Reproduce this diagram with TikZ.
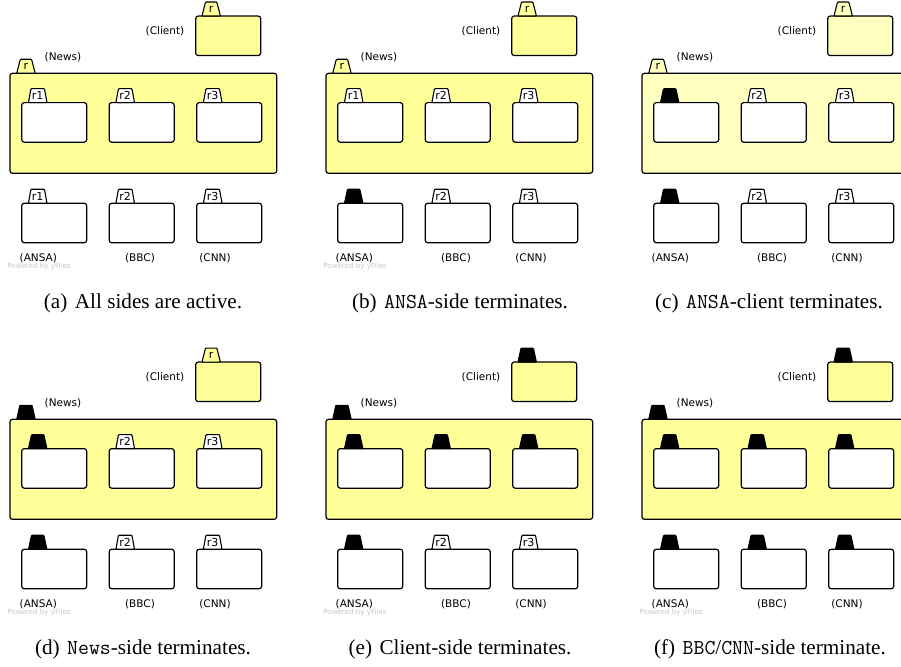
\documentclass[tikz,border=0pt]{standalone}
\usepackage{fontspec}
\setmainfont{Liberation Serif}
\newfontfamily\diagfont{DejaVu Sans}
\usetikzlibrary{shapes.geometric}
\definecolor{newsyellow}{HTML}{FFFF99}
\definecolor{fadedyellow}{HTML}{FFFFBF}
\definecolor{yfilesgray}{HTML}{C8C8C8}
\colorlet{paneltint}{newsyellow}
\def\deadname{deadtab}
\newcommand{\tabtext}[2]{\def\tabstate{#1}\ifx\tabstate\deadname\else#2\fi}
\tikzset{
  every node/.style={inner sep=0, outer sep=0},
  box/.style={draw, line width=1.2pt, rounded corners=2.5pt, minimum width=65pt, minimum height=39.5pt},
  tabshape/.style={draw, line width=1.1pt, rounded corners=.8pt, trapezium, trapezium left angle=76,
    trapezium right angle=76, trapezium stretches=true, minimum width=18.4pt, minimum height=14pt,
    inner sep=1pt, anchor=south, font=\diagfont\fontsize{11}{11}\selectfont},
  livetab/.style={tabshape, fill=white},
  toptab/.style={tabshape, fill=paneltint},
  deadtab/.style={tabshape, fill=black},
  partname/.style={font=\diagfont\fontsize{10.5}{12}\selectfont},
  powered/.style={font=\diagfont\fontsize{7.1}{8}\selectfont, text=yfilesgray},
  caption/.style={anchor=base, font=\fontsize{21.2}{24}\selectfont},
}
% #1 shift, #2 tint, #3 client, #4 news, #5 inner r1, #6 inner r2/r3, #7 ANSA, #8 BBC/CNN
\newcommand{\newspanel}[8]{%
  \begin{scope}[shift={#1}]
    \colorlet{paneltint}{#2}
    \node[box, fill=paneltint] (client) at (228.2, 35.8) {};
    \node[#3] (clienttab) at ([xshift=15.5pt]client.north west) {\tabtext{#3}{r}};
    \node[partname] (clientname) at (165, 31.5) {(Client)};
    \node[box, fill=paneltint, minimum width=266.7pt, minimum height=100pt] (news) at (143.3, 123.3) {};
    \node[#4] (newstab) at ([xshift=16pt]news.north west) {\tabtext{#4}{r}};
    \node[partname] (newsname) at (63, 57) {(News)};
    % inner roles
    \node[box, fill=white] (in1) at (54.2, 122.4) {};
    \node[box, fill=white] (in2) at (141.7, 122.4) {};
    \node[box, fill=white] (in3) at (229.2, 122.4) {};
    \node[#5] (in1tab) at ([xshift=16pt]in1.north west) {\tabtext{#5}{r1}};
    \node[#6] (in2tab) at ([xshift=16pt]in2.north west) {\tabtext{#6}{r2}};
    \node[#6] (in3tab) at ([xshift=16pt]in3.north west) {\tabtext{#6}{r3}};
    % outer services
    \node[box, fill=white] (ansa) at (54.2, 223) {};
    \node[box, fill=white] (bbc) at (141.7, 223) {};
    \node[box, fill=white] (cnn) at (229.2, 223) {};
    \node[#7] (ansatab) at ([xshift=16pt]ansa.north west) {\tabtext{#7}{r1}};
    \node[#8] (bbctab) at ([xshift=16pt]bbc.north west) {\tabtext{#8}{r2}};
    \node[#8] (cnntab) at ([xshift=16pt]cnn.north west) {\tabtext{#8}{r3}};
    \node[partname] (ansaname) at (38.3, 258.3) {(ANSA)};
    \node[partname] (bbcname) at (140, 258.3) {(BBC)};
    \node[partname] (cnnname) at (215, 258.3) {(CNN)};
  \end{scope}}

\begin{document}
\begin{tikzpicture}[x=1pt, y=-1pt]
  \clip (0,0) rectangle (901,666);
  \fill[white] (0,0) rectangle (901,666);
  \newspanel{(0,0)}{newsyellow}{toptab}{toptab}{livetab}{livetab}{livetab}{livetab}
  \newspanel{(316,0)}{newsyellow}{toptab}{toptab}{livetab}{livetab}{deadtab}{livetab}
  \newspanel{(632,0)}{fadedyellow}{toptab}{toptab}{deadtab}{livetab}{deadtab}{livetab}
  \newspanel{(0,346)}{newsyellow}{toptab}{deadtab}{deadtab}{livetab}{deadtab}{livetab}
  \newspanel{(316,346)}{newsyellow}{deadtab}{deadtab}{deadtab}{deadtab}{deadtab}{livetab}
  \newspanel{(632,346)}{newsyellow}{deadtab}{deadtab}{deadtab}{deadtab}{deadtab}{deadtab}
  \foreach \px/\py in {0/0, 316/0, 0/346, 316/346, 632/346}
    \node[powered] (yfiles) at (39+\px, 267+\py) {Powered by yFiles};
  % captions
  \node[caption] (capa) at (143, 308) {(a)\hspace{.35em}All sides are active.};
  \node[caption] (capb) at (460, 308) {(b)\hspace{.35em}\texttt{ANSA}-side terminates.};
  \node[caption] (capc) at (769, 308) {(c)\hspace{.35em}\texttt{ANSA}-client terminates.};
  \node[caption] (capd) at (143, 654) {(d)\hspace{.35em}\texttt{News}-side terminates.};
  \node[caption] (cape) at (460, 654) {(e)\hspace{.35em}Client-side terminates.};
  \node[caption] (capf) at (770, 654) {(f)\hspace{.35em}\texttt{BBC}/\texttt{CNN}-side terminate.};
\end{tikzpicture}
\end{document}
